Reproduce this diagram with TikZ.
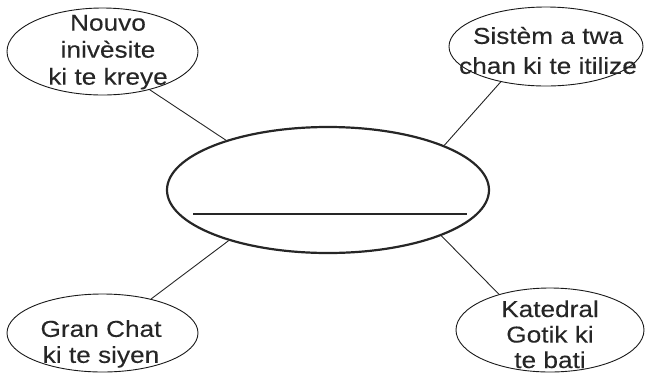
\documentclass[tikz,border=0pt]{standalone}
\usepackage{fontspec}
\newfontfamily\lbl[FakeStretch=1.14,FakeBold=0.15]{Liberation Sans}
\usetikzlibrary{shapes.geometric}
\tikzset{
  bubble/.style={draw=black!90, line width=0.9pt, ellipse, inner sep=0pt},
  hub/.style={draw=black!85, line width=2.2pt, ellipse, inner sep=0pt},
  lbltext/.style={align=center, inner sep=0pt, font=\lbl\fontsize{23}{27}\selectfont, text=black!85},
  link/.style={draw=black!85, line width=0.9pt},
  blank/.style={draw=black!85, line width=1.2pt}
}
\begin{document}
\begin{tikzpicture}[x=1pt,y=-1pt]
\useasboundingbox (0,0) rectangle (646,373);
% central ellipse
\node[hub, minimum width=322pt, minimum height=126pt] (c) at (328,190) {};
\coordinate (b1) at (193,214);
\coordinate (b2) at (467,214);
\draw[blank] (b1) -- (b2);
% outer ellipses
\node[bubble, minimum width=191pt, minimum height=87pt] (tl) at (102.5,51.5) {};
\node[bubble, minimum width=194pt, minimum height=79pt] (tr) at (546,46.5) {};
\node[bubble, minimum width=191pt, minimum height=78pt] (bl) at (102.5,333) {};
\node[bubble, minimum width=188pt, minimum height=84pt] (br) at (550,330) {};
% texts
\node[lbltext] (ttl) at (108,52.1) {Nouvo\\inivèsite\\ki te kreye};
\node[lbltext, font=\lbl\fontsize{23}{30}\selectfont] (ttr) at (548,50.5) {Sistèm a twa\\chan ki te itilize};
\node[lbltext, font=\lbl\fontsize{23}{26}\selectfont] (tbl) at (101,343.9) {Gran Chat\\ki te siyen};
\node[lbltext, font=\lbl\fontsize{23}{25.5}\selectfont] (tbr) at (550,334.3) {Katedral\\Gotik ki\\te bati};
% connectors
\draw[link] (tl.-39) -- (c.154);
\draw[link] (tr.218) -- (c.21);
\draw[link] (bl.35) -- (c.207);
\draw[link] (br.145) -- (c.-22);
\end{tikzpicture}
\end{document}
